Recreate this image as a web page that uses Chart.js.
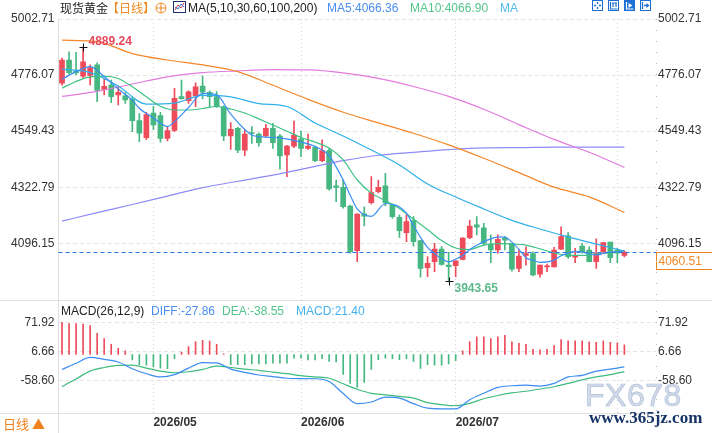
<!DOCTYPE html>
<html>
<head>
<meta charset="utf-8">
<script src="https://cdn.jsdelivr.net/npm/chart.js@4.4.1/dist/chart.umd.min.js"></script>
<style>
  body { margin: 0; background: #fff; width: 712px; height: 433px; overflow: hidden; position: relative;
         font-family: "Liberation Sans", Arial, "Noto Sans CJK SC", sans-serif; }
  #pricebox { position: absolute; left: 0; top: 0; width: 712px; height: 300px; }
  #macdbox { position: absolute; left: 0; top: 300px; width: 712px; height: 133px; }
  .t { position: absolute; white-space: nowrap; font-size: 12px; line-height: 16px; }
  .cjk { font-family: "Noto Sans CJK SC", sans-serif; }
  .tool { position: absolute; top: 0; width: 11px; height: 11px; }
  #box { position: absolute; left: 0; top: 413px; width: 58px; height: 20px; border-right: 1px solid #dcdcdc; }
  #fx { position: absolute; left: 585px; top: 377px; font: 32px "Liberation Sans", Arial, sans-serif;
        color: rgba(206,216,232,0.9); -webkit-text-stroke: 0.7px #aebdd6; letter-spacing: 0.5px; }
  #url { position: absolute; left: 589px; top: 408px; font: bold 17px "Liberation Serif", serif; color: #173466; }
</style>
</head>
<body>
<div id="pricebox"><canvas id="price"></canvas></div>
<div id="macdbox"><canvas id="macd"></canvas></div>

<div class="t cjk" style="left:60px;top:0;color:#222">现货黄金</div>
<div class="t cjk" style="left:107px;top:0;color:#f08a24">【日线】</div>
<svg style="position:absolute;left:155px;top:2px" width="12" height="12"><circle cx="6" cy="6" r="5" fill="none" stroke="#f08a24"/><path d="M6 1v10M1 6h10" stroke="#f08a24"/></svg>
<svg style="position:absolute;left:173px;top:1px" width="13" height="12"><rect x="0.5" y="0.5" width="12" height="11" fill="#fff" stroke="#1c2f6b"/><polyline points="2,9 5,4 8,7 11,2" fill="none" stroke="#e23a4a"/><polyline points="2,6 5,8 8,3 11,6" fill="none" stroke="#2f6fd8"/></svg>
<div class="t" style="left:188px;top:0;color:#222">MA(5,10,30,60,100,200)</div>
<div class="t" style="left:327px;top:0;color:#4a8ff0">MA5:4066.36</div>
<div class="t" style="left:410px;top:0;color:#55c48d">MA10:4066.90</div>
<div class="t" style="left:500px;top:0;color:#4fb8f0">MA</div>

<svg class="tool" style="left:592px" width="11" height="11"><rect x="0.5" y="0.5" width="10" height="10" fill="#fff" stroke="#1d6fd6"/><path d="M5.5 2v2M5.5 7v2M2 5.5h2M7 5.5h2" stroke="#1d6fd6" stroke-width="1.3"/></svg>
<svg class="tool" style="left:608px" width="11" height="11"><rect x="0.5" y="0.5" width="10" height="10" fill="#fff" stroke="#1d6fd6"/><path d="M2.5 2v7h7M5 3v4M8 3v4M4 3h5" stroke="#1d6fd6" stroke-width="1.2" fill="none"/></svg>
<svg class="tool" style="left:624px" width="11" height="11"><rect x="0" y="0" width="11" height="11" fill="#1d6fd6"/><path d="M2.5 2v7h7" stroke="#fff" stroke-width="1.2" fill="none"/><path d="M4.5 3l4 2.5-4 2.5z" fill="#fff"/></svg>
<svg class="tool" style="left:640px" width="11" height="11"><rect x="0.5" y="0.5" width="10" height="10" fill="#fff" stroke="#1d6fd6"/><path d="M2.5 2v7M4 5.5h4" stroke="#1d6fd6" stroke-width="1.3"/><path d="M6.5 3l3 2.5-3 2.5z" fill="#1d6fd6"/></svg>

<div class="t" style="left:61px;top:303px;color:#222">MACD(26,12,9)</div>
<div class="t" style="left:151px;top:303px;color:#4a8ff0">DIFF:-27.86</div>
<div class="t" style="left:222px;top:303px;color:#55c48d">DEA:-38.55</div>
<div class="t" style="left:296px;top:303px;color:#45b2f0">MACD:21.40</div>

<div id="box"></div>
<div class="t cjk" style="left:3px;top:416px;font-size:13px;color:#f0821e">日线 ▲</div>
<div id="fx">FX678</div>
<div id="url">www.365jz.com</div>

<script>
// daily candles, 2026/04/14 onward (red = up, green = down)
const opens = [4743,4837,4792,4772,4775,4817,4718,4736,4696,4692,
  4678,4592,4523,4622,4612,4520,4552,4689,4673,4693,
  4732,4706,4689,4648,4530,4561,4473,4544,4538,4530,
  4561,4530,4453,4489,4518,4480,4484,4430,4471,4328,
  4322,4247,4066,4215,4260,4305,4328,4251,4201,4139,
  4188,4107,3998,4022,4073,4008,4006,4031,4119,4171,
  4159,4092,4069,4116,4096,3995,4047,4055,3971,4001,
  4001,4072,4126,4040,4085,4069,4022,4062,4101,4070,
  4047];
const highs = [4845,4870,4868,4889.24,4817,4826,4759,4756,4732,4705,
  4688,4620,4625,4650,4625,4567,4722,4756,4712,4745,
  4772,4712,4709,4652,4584,4565,4554,4568,4543,4577,
  4581,4537,4492,4590,4550,4538,4489,4514,4480,4352,
  4352,4251,4215,4244,4366,4352,4379,4255,4211,4211,
  4204,4107,4042,4096,4083,4060,4025,4119,4190,4204,
  4177,4130,4130,4123,4096,4069,4082,4062,4008,4012,
  4080,4163,4139,4076,4096,4082,4114,4099,4101,4076,
  4065];
const lows = [4735,4780,4778,4765,4736,4669,4696,4665,4655,4662,
  4547,4507,4515,4555,4505,4510,4547,4679,4662,4648,
  4680,4648,4645,4511,4476,4462,4450,4500,4489,4527,
  4480,4396,4365,4483,4446,4476,4426,4426,4311,4264,
  4238,4056,4022,4166,4255,4300,4247,4197,4120,4103,
  4085,3959,3961,3982,4008,3943.65,3961,4029,4115,4130,
  4089,4018,4056,4069,3984,3981,4008,3964,3959,3981,
  4001,4071,4035,4018,4056,4021,3995,4055,4018,4018,
  4041];
const closes = [4837,4786,4785,4830,4806,4714,4731,4689,4706,4676,
  4592,4541,4616,4575,4520,4552,4682,4681,4708,4729,
  4707,4689,4648,4530,4557,4473,4538,4540,4503,4561,
  4503,4449,4489,4534,4480,4489,4430,4471,4316,4322,
  4244,4062,4214,4206,4301,4322,4260,4204,4147,4184,
  4103,3995,4015,4073,4011,4002,4025,4117,4166,4161,
  4096,4069,4112,4109,3992,4045,4055,3968,4008,4005,
  4069,4123,4042,4045,4062,4022,4056,4099,4038,4056,
  4060.51];

// moving averages (index -> value)
const ma5Idx = [0,2,4,6,8,10,11,13,15,16,18,20,22,24,26,27,29,31,34,36,38,39,40,41,42,44,46,47,48,49,
  50,51,52,53,54,55,56,57,58,59,60,61,62,63,64,65,66,67,68,69,70,71,72,73,74,75,76,77,78,79,80];
const ma5 = [4759,4790,4810,4770,4720,4675,4642,4603,4568,4588,4645,4702,4696,4618,4556,4534,4525,4522,4505,4488,
  4450,4405,4352,4290,4235,4205,4257,4253,4243,4218,4168,4120,4080,4055,4033,4021,4032,4047,4071,4088,
  4103,4114,4121,4121,4101,4072,4038,4028,4019,4021,4028,4046,4056,4064,4062,4053,4049,4055,4061,4062,4066.36];
const evenIdx = [0,2,4,6,8,10,12,14,16,18,20,22,24,26,28,30,32,34,36,38,40,42,44,46,48,50,52,54,56,58,60,62,64,66,68,70,72,74,76,78,80];
const ma10 = [4723,4750,4769,4772,4762,4729,4688,4650,4635,4635,
  4641,4649,4639,4623,4599,4574,4549,4524,4505,4481,
  4433,4352,4299,4269,4237,4194,4152,4107,4077,4071,
  4089,4095,4093,4089,4074,4057,4048,4047,4053,4058,4066.9];
const ma30Idx = [0,4,8,12,16,20,24,28,32,36,40,44,48,52,56,60,64,68,72,76,80];
const ma30 = [4800,4786,4732,4659,4663,4694,4688,4661,4649,4582,4530,4473,4413,4336,4283,4235,4189,4154,4122,4093,4065];
const longIdx = [0,5,10,15,20,25,30,35,40,45,50,55,60,65,70,75,80];
const ma60 = [4917,4911,4863,4837,4817,4790,4735,4678,4626,4583,4541,4494,4440,4382,4323,4284,4221];
const ma100 = [4690,4710,4740,4769,4786,4793,4798,4797,4785,4763,4730,4690,4638,4576,4516,4464,4403];
const ma200 = [4186,4220,4253,4287,4321,4347,4372,4401,4430,4452,4464,4475,4482,4483,4485,4485,4485];

// MACD(26,12,9)
const macdHist = [72.5,69.6,69.6,68.1,65.2,47.6,35.9,22.7,13.9,8.1,
  -12.5,-22.7,-24.2,-27.8,-30.8,-32.2,-9.5,5.1,17.6,28.6,
  31.5,30,22.7,1.5,-22.7,-22.7,-22.7,-21.2,-21.2,-21.2,
  -19.8,-19.8,-19.8,-8.1,-8.1,-12.5,-12.5,-9.5,-15.4,-16.8,
  -44.7,-65.2,-74,-63,-33.7,-11.7,-8.1,-9.5,-11.7,-9.5,
  -15.4,-31.5,-22.7,-24.2,-24.2,-21.2,-13.9,8.1,28.6,39.5,
  39.5,35.9,39.5,43.2,28.6,24.9,22.7,11.7,10.3,11.7,
  19.8,33.7,30.8,30.8,30.8,28.6,27.1,30.8,27.1,26.4,
  21.40];
const diff = [-33.7,-19.8,-6.6,-11,-16.9,-32,-43.3,-50.6,-45.5,-30.8,
  -18.4,-19.1,-33,-40.3,-46.2,-49.9,-53.5,-54.2,-54.6,-60.8,
  -88,-110.6,-107,-96,-98.2,-110.6,-120.9,-122.4,-122.4,-101.9,
  -87.2,-74,-70.4,-68.9,-71.1,-65.2,-50.6,-47,-37.4,-33,-27.86];
const dea = [-72.5,-55,-37.4,-29.3,-24.7,-24.2,-30.8,-37.4,-41.1,-38.9,
  -33.7,-26.4,-29.3,-33,-35.9,-39.6,-43.3,-47.7,-50.6,-53.5,
  -66,-78.4,-87.6,-90.9,-94.5,-98.2,-108.4,-112.8,-115.4,-109.9,
  -99.7,-92.3,-86.5,-82.8,-77.7,-72.6,-65.2,-57.2,-50.6,-45.5,-38.55];

const priceTicks = [4096.15, 4322.79, 4549.43, 4776.07, 5002.71];
const macdTicks = [-58.60, 6.66, 71.92];
const tickLabels = ["2026/05", "2026/06", "2026/07"];

const firstDay = "2026-04-14";
const slots = 85; // candles plus empty space on the right

const UP = "#ee4b5b", DOWN = "#47b782";
const FONT = '"Liberation Sans", Arial, sans-serif';
Chart.defaults.font.family = FONT;
Chart.defaults.font.size = 12;
Chart.defaults.color = "#333";

function tradingDays(start, n) {
  const out = [];
  const d = new Date(start + "T00:00:00Z");
  while (out.length < n) {
    const w = d.getUTCDay();
    if (w !== 0 && w !== 6) out.push(d.toISOString().slice(0, 10).replace(/-/g, "/"));
    d.setUTCDate(d.getUTCDate() + 1);
  }
  return out;
}
const dates = tradingDays(firstDay, slots);
const monthStarts = dates.map((d, i) => i > 0 && d.slice(0, 7) !== dates[i - 1].slice(0, 7) ? i : -1).filter(i => i >= 0);

function sparse(idx, vals) {
  const out = new Array(closes.length).fill(null);
  idx.forEach((k, j) => { out[k] = vals[j]; });
  return out;
}

const candleColors = closes.map((c, i) => c >= opens[i] ? UP : DOWN);
const gridX = ctx => monthStarts.includes(ctx.index) ? "#d6d6d6" : "rgba(0,0,0,0)";
const noPad = s => { s.paddingTop = 0; s.paddingBottom = 0; s.paddingLeft = 0; s.paddingRight = 0; };

function maLine(data, color) {
  return { type: "line", data: data, borderColor: color, borderWidth: 1.2, pointRadius: 0,
           spanGaps: true, cubicInterpolationMode: "monotone", order: 0 };
}

function yAxis(pos, min, max, ticks, width, withGrid) {
  return {
    position: pos, min: min, max: max,
    afterBuildTicks: s => { s.ticks = ticks.map(v => ({ value: v })); },
    ticks: { callback: v => v.toFixed(2), color: "#333", padding: pos === "left" ? 4 : 2 },
    grid: { display: withGrid, color: "#e4e4e4", drawTicks: false },
    border: { display: pos === "left", color: "#dedede", dash: [4, 3] },
    afterFit: s => { s.width = width; noPad(s); }
  };
}

function dottedRight(chart, top, bottom) {
  const { ctx, chartArea: a } = chart;
  ctx.save();
  ctx.strokeStyle = "#b8b8b8";
  ctx.setLineDash([1, 10]);
  ctx.beginPath(); ctx.moveTo(a.right + 0.5, top); ctx.lineTo(a.right + 0.5, bottom); ctx.stroke();
  ctx.restore();
}

const priceMarks = {
  id: "priceMarks",
  afterDatasetsDraw(chart) {
    const { ctx, chartArea: a, scales: { x, y } } = chart;
    const n = closes.length - 1;
    const last = closes[n];
    const yl = Math.round(y.getPixelForValue(last)) + 0.5;
    ctx.save();
    ctx.strokeStyle = "#2a78e4"; ctx.lineWidth = 1.2; ctx.setLineDash([4, 3]);
    ctx.beginPath(); ctx.moveTo(a.left, yl); ctx.lineTo(a.right, yl); ctx.stroke();
    ctx.setLineDash([]);
    // last price box on the right axis
    ctx.fillStyle = "#fff"; ctx.strokeStyle = "#f0841c"; ctx.lineWidth = 1;
    ctx.fillRect(a.right, yl, 60, 17); ctx.strokeRect(a.right + 0.5, yl, 60, 17);
    ctx.fillStyle = "#f08a24"; ctx.font = "12px " + FONT; ctx.textBaseline = "middle"; ctx.textAlign = "left";
    ctx.fillText(last.toFixed(2), a.right + 2.5, yl + 8.8);
    // highest high / lowest low markers
    const hi = highs.indexOf(Math.max(...highs));
    const lo = lows.indexOf(Math.min(...lows));
    const mark = (i, v, color, dy) => {
      const px = Math.round(x.getPixelForValue(i)) + 0.5, py = Math.round(y.getPixelForValue(v)) + 0.5;
      ctx.strokeStyle = "#111"; ctx.lineWidth = 1;
      ctx.beginPath(); ctx.moveTo(px - 4, py); ctx.lineTo(px + 4, py); ctx.moveTo(px, py - 4); ctx.lineTo(px, py + 4); ctx.stroke();
      ctx.font = "bold 12px " + FONT; ctx.fillStyle = color;
      ctx.fillText(v.toFixed(2), px + 5, py + dy);
    };
    mark(hi, highs[hi], "#e8485e", -6);
    mark(lo, lows[lo], "#5bb98b", 7);
    ctx.restore();
    dottedRight(chart, a.top, a.bottom);
  }
};

const macdMarks = {
  id: "macdMarks",
  afterDraw(chart) {
    const { ctx, chartArea: a } = chart;
    ctx.save();
    ctx.strokeStyle = "#e0e0e0"; ctx.lineWidth = 1;
    ctx.beginPath();
    ctx.moveTo(0, 0.5); ctx.lineTo(chart.width, 0.5);
    ctx.moveTo(0, a.bottom + 0.5); ctx.lineTo(a.right, a.bottom + 0.5);
    ctx.stroke();
    ctx.restore();
    dottedRight(chart, a.top, a.bottom);
  }
};

new Chart(document.getElementById("price"), {
  type: "bar",
  data: {
    labels: dates,
    datasets: [
      maLine(sparse(ma5Idx, ma5), "#3b8ff5"),
      maLine(sparse(evenIdx, ma10), "#3ec184"),
      maLine(sparse(ma30Idx, ma30), "#2fb0ea"),
      maLine(sparse(longIdx, ma60), "#f5872a"),
      maLine(sparse(longIdx, ma100), "#e37ade"),
      maLine(sparse(longIdx, ma200), "#8f8af7"),
      { data: closes.map((c, i) => [opens[i], c]), backgroundColor: candleColors,
        barThickness: 5, grouped: false, minBarLength: 1, order: 1 },
      { data: closes.map((c, i) => [lows[i], highs[i]]), backgroundColor: candleColors,
        barThickness: 1, grouped: false, order: 2 }
    ]
  },
  options: {
    responsive: true, maintainAspectRatio: false, animation: false,
    layout: { padding: { top: 19, bottom: 0, left: 0, right: 0 } },
    plugins: { legend: { display: false }, tooltip: { enabled: false } },
    scales: {
      x: { offset: true, grid: { offset: false, drawTicks: false, color: gridX },
           border: { display: false, dash: [1, 3] }, ticks: { display: false, autoSkip: false },
           afterFit: s => { s.height = 0; noPad(s); } },
      y: yAxis("left", 3867, 5002.71, priceTicks, 58.5, true),
      yR: yAxis("right", 3867, 5002.71, priceTicks, 56, false)
    }
  },
  plugins: [priceMarks]
});

new Chart(document.getElementById("macd"), {
  type: "bar",
  data: {
    labels: dates,
    datasets: [
      { type: "line", data: sparse(evenIdx, diff), borderColor: "#3b8cf2", borderWidth: 1.2, pointRadius: 0,
        spanGaps: true, cubicInterpolationMode: "monotone", order: 0 },
      { type: "line", data: sparse(evenIdx, dea), borderColor: "#3dbb7e", borderWidth: 1.2, pointRadius: 0,
        spanGaps: true, cubicInterpolationMode: "monotone", order: 1 },
      { data: macdHist, backgroundColor: macdHist.map(v => v >= 0 ? UP : DOWN),
        barThickness: 1, grouped: false, order: 2 }
    ]
  },
  options: {
    responsive: true, maintainAspectRatio: false, animation: false,
    layout: { padding: { top: 0, bottom: 0, left: 0, right: 0 } },
    plugins: { legend: { display: false }, tooltip: { enabled: false } },
    scales: {
      x: { offset: true, grid: { offset: false, drawTicks: false, color: gridX },
           border: { display: false, dash: [1, 3] },
           ticks: { autoSkip: false, maxRotation: 0, minRotation: 0, align: "start", padding: 2,
                    font: { weight: "bold", size: 12 }, color: "#333",
                    callback: (v, i) => monthStarts.includes(i) && tickLabels.includes(dates[i].slice(0, 7)) ? dates[i].slice(0, 7) : "" },
           afterFit: s => { s.height = 20; noPad(s); } },
      y: yAxis("left", -131.7, 122.5, macdTicks, 58.5, true),
      yR: yAxis("right", -131.7, 122.5, macdTicks, 56, false)
    }
  },
  plugins: [macdMarks]
});
</script>
</body>
</html>
